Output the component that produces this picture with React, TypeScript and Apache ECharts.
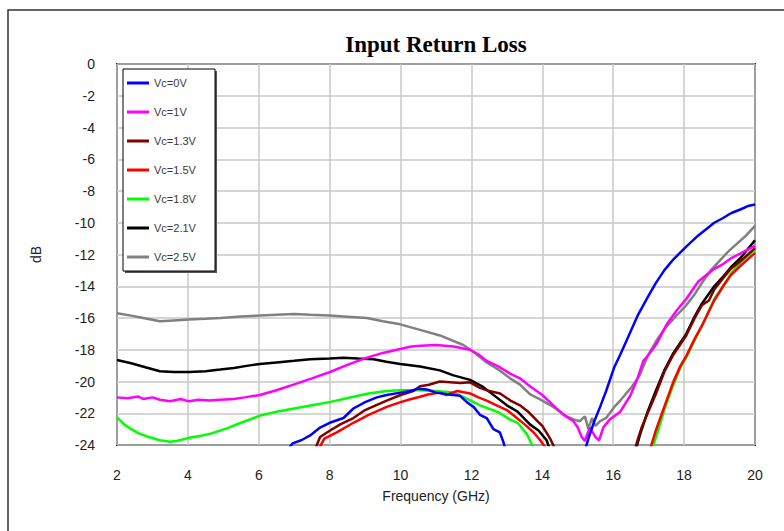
import React, { useEffect, useRef } from "react";
import * as echarts from "echarts";

const seriesNames = ["Vc=0V", "Vc=1V", "Vc=1.3V", "Vc=1.5V", "Vc=1.8V", "Vc=2.1V", "Vc=2.5V"];
const seriesColors = ["#0000ff", "#ff00ff", "#800000", "#ff0000", "#00ff00", "#000000", "#808080"];

const xTicks = [2, 4, 6, 8, 10, 12, 14, 16, 18, 20];
const yTicks = [0, -2, -4, -6, -8, -10, -12, -14, -16, -18, -20, -22, -24];

type P = [number, number | string];
const GAP: P = [14.6, "-"];

const vc0V: P[] = [
  [6.85, -24.2], [6.95, -23.9], [7.2, -23.7], [7.45, -23.4], [7.73, -22.9], [8.0, -22.6], [8.39, -22.3],
  [8.67, -21.7], [9.0, -21.3], [9.33, -21.0], [9.61, -20.85], [10.0, -20.7], [10.27, -20.6], [10.5, -20.45],
  [10.74, -20.5], [11.0, -20.7], [11.3, -20.8], [11.68, -20.9], [11.87, -21.3], [12.06, -21.6], [12.24, -22.1],
  [12.43, -22.3], [12.62, -23.0], [12.8, -23.2], [12.9, -23.8], [12.95, -24.2],
  GAP,
  [15.22, -24.2], [15.3, -23.6], [15.45, -22.6], [15.63, -21.6], [15.8, -20.6], [16.03, -19.1], [16.2, -18.3],
  [16.4, -17.3], [16.5, -16.8], [16.7, -15.8], [16.97, -14.7], [17.2, -13.8], [17.44, -13.0], [17.7, -12.3],
  [18.06, -11.5], [18.4, -10.8], [18.85, -10.0], [19.1, -9.7], [19.32, -9.4], [19.6, -9.15], [19.8, -8.95], [20.0, -8.85],
];

const vc1V: P[] = [
  [2, -21.0], [2.3, -21.05], [2.6, -20.95], [2.74, -21.1], [3.0, -21.0], [3.21, -21.15], [3.5, -21.25],
  [3.8, -21.1], [4.03, -21.25], [4.3, -21.15], [4.6, -21.2], [4.91, -21.15], [5.3, -21.1], [5.6, -21.0],
  [6.03, -20.85], [6.5, -20.55], [6.98, -20.2], [7.5, -19.8], [8.01, -19.4], [8.5, -18.95], [9.05, -18.5],
  [9.5, -18.2], [9.99, -17.95], [10.3, -17.8], [10.56, -17.75], [11.0, -17.7], [11.49, -17.8], [11.96, -18.0],
  [12.2, -18.3], [12.43, -18.7], [12.8, -19.1], [13.09, -19.5], [13.37, -19.8], [13.65, -20.3], [14.0, -20.85],
  [14.31, -21.5], [14.6, -22.1], [14.88, -22.5], [15.0, -22.9], [15.11, -23.5], [15.2, -23.75], [15.34, -22.9],
  [15.5, -23.5], [15.6, -23.7], [15.72, -22.9], [15.9, -22.4], [16.2, -21.9], [16.48, -20.9], [16.67, -19.9],
  [16.85, -18.7], [16.97, -18.4], [17.23, -17.6], [17.51, -16.4], [17.8, -15.5], [18.06, -14.8], [18.4, -13.7],
  [18.85, -12.9], [19.1, -12.6], [19.32, -12.25], [19.7, -11.8], [20.0, -11.45],
];

const vc13V: P[] = [
  [7.6, -24.2], [7.73, -23.5], [8.0, -23.1], [8.3, -22.7], [8.67, -22.3], [9.0, -21.8], [9.3, -21.5],
  [9.61, -21.2], [10.0, -20.85], [10.36, -20.6], [10.55, -20.3], [10.8, -20.2], [11.11, -20.0], [11.4, -20.05],
  [11.68, -20.1], [11.96, -20.05], [12.24, -20.4], [12.5, -20.6], [12.81, -20.75], [13.1, -21.2], [13.37, -21.5],
  [13.6, -21.9], [13.84, -22.45], [14.0, -22.8], [14.22, -23.6], [14.35, -24.2],
  GAP,
  [16.62, -24.2], [16.7, -23.6], [16.8, -22.9], [16.97, -22.0], [17.2, -20.8], [17.44, -19.4], [17.7, -18.3],
  [18.06, -17.1], [18.3, -16.0], [18.5, -15.2], [18.7, -14.9], [18.85, -14.2], [19.1, -13.5], [19.32, -12.9],
  [19.6, -12.4], [20.0, -11.6],
];

const vc15V: P[] = [
  [7.7, -24.2], [7.85, -23.6], [8.2, -23.2], [8.67, -22.6], [9.1, -22.1], [9.61, -21.6], [10.0, -21.3],
  [10.3, -21.1], [10.55, -20.96], [10.8, -20.8], [11.11, -20.7], [11.3, -20.85], [11.6, -20.6], [11.96, -20.75],
  [12.2, -21.0], [12.43, -21.2], [12.71, -21.5], [13.0, -21.8], [13.28, -22.3], [13.5, -22.7], [13.75, -23.2],
  [13.94, -23.7], [14.1, -24.2],
  GAP,
  [17.05, -24.2], [17.2, -23.1], [17.44, -21.6], [17.7, -20.0], [17.9, -19.0], [18.06, -18.4], [18.3, -17.3],
  [18.5, -16.5], [18.85, -14.9], [19.1, -14.0], [19.32, -13.3], [19.6, -12.7], [20.0, -11.9],
];

const vc18V: P[] = [
  [2, -22.25], [2.2, -22.7], [2.37, -22.95], [2.6, -23.25], [2.9, -23.5], [3.21, -23.7], [3.5, -23.8],
  [3.68, -23.75], [4.03, -23.55], [4.3, -23.45], [4.62, -23.3], [5.1, -22.95], [5.5, -22.6], [6.03, -22.15],
  [6.5, -21.9], [7.0, -21.7], [7.5, -21.5], [8.0, -21.3], [8.67, -20.96], [9.1, -20.75], [9.61, -20.6],
  [10.0, -20.55], [10.55, -20.55], [11.0, -20.6], [11.49, -20.7], [11.8, -21.0], [12.24, -21.5], [12.6, -21.8],
  [12.81, -22.0], [13.09, -22.4], [13.3, -22.6], [13.56, -23.3], [13.65, -23.7], [13.75, -24.2],
  GAP,
  [17.1, -24.2], [17.25, -23.2], [17.44, -21.8], [17.7, -20.2], [17.9, -19.1], [18.06, -18.5], [18.3, -17.4],
  [18.5, -16.5], [18.85, -14.8], [19.1, -14.0], [19.32, -13.2], [19.6, -12.5], [20.0, -11.65],
];

const vc21V: P[] = [
  [2, -18.65], [2.4, -18.85], [2.8, -19.1], [3.21, -19.35], [3.6, -19.4], [4.03, -19.4], [4.5, -19.35],
  [4.91, -19.25], [5.3, -19.15], [5.7, -19.0], [6.03, -18.9], [6.5, -18.8], [7.0, -18.7], [7.45, -18.6],
  [8.0, -18.55], [8.39, -18.5], [8.8, -18.55], [9.24, -18.6], [9.6, -18.75], [9.99, -18.9], [10.55, -19.05],
  [11.11, -19.3], [11.47, -19.6], [11.96, -19.9], [12.3, -20.3], [12.71, -21.0], [13.0, -21.5], [13.3, -21.9],
  [13.65, -22.7], [13.9, -23.1], [14.12, -23.7], [14.2, -24.2],
  GAP,
  [16.65, -24.2], [16.75, -23.4], [16.97, -21.9], [17.2, -20.6], [17.44, -19.3], [17.7, -18.2], [18.06, -17.0],
  [18.3, -15.9], [18.5, -15.1], [18.85, -14.0], [19.1, -13.4], [19.32, -12.8], [19.6, -12.2], [20.0, -11.1],
];

const vc25V: P[] = [
  [2, -15.7], [2.4, -15.85], [2.74, -16.0], [3.21, -16.2], [3.6, -16.15], [4.03, -16.1], [4.5, -16.05],
  [4.91, -16.0], [5.5, -15.9], [6.03, -15.85], [6.5, -15.8], [7.0, -15.75], [7.45, -15.8], [8.0, -15.85],
  [8.39, -15.9], [9.05, -16.0], [9.5, -16.2], [9.99, -16.4], [10.55, -16.75], [11.11, -17.1], [11.77, -17.7],
  [12.1, -18.2], [12.43, -18.8], [12.8, -19.3], [13.09, -19.8], [13.37, -20.2], [13.65, -20.8], [14.0, -21.2],
  [14.31, -21.6], [14.69, -22.2], [14.9, -22.4], [15.06, -22.5], [15.2, -22.2], [15.3, -23.0], [15.4, -22.3],
  [15.5, -22.8], [15.63, -22.5], [15.8, -22.3], [16.03, -21.6], [16.2, -21.2], [16.5, -20.4], [16.75, -19.6],
  [16.97, -18.4], [17.2, -17.5], [17.44, -16.7], [17.8, -15.8], [18.06, -15.2], [18.3, -14.5], [18.5, -13.8],
  [18.75, -13.0], [19.0, -12.4], [19.25, -11.8], [19.5, -11.3], [19.75, -10.8], [20.0, -10.2],
];

const seriesData = [vc0V, vc1V, vc13V, vc15V, vc18V, vc21V, vc25V];

export default function App() {
  const ref = useRef<HTMLDivElement>(null);
  useEffect(() => {
    if (!ref.current) return;
    const chart = echarts.init(ref.current, null, { renderer: "svg" });
    const font = "Arial, 'Liberation Sans', sans-serif";
    const option: any = {
      animation: false,
      backgroundColor: "#ffffff",
      grid: {
        left: 117,
        right: 29,
        top: 64,
        bottom: 86,
        show: true,
        borderColor: "#222222",
        borderWidth: 2,
        backgroundColor: "transparent",
      },
      xAxis: {
        type: "value",
        min: xTicks[0],
        max: xTicks[xTicks.length - 1],
        interval: 2,
        name: "Frequency (GHz)",
        nameLocation: "middle",
        nameGap: 44,
        nameTextStyle: { fontFamily: font, fontSize: 14, color: "#222" },
        axisLine: { show: false },
        axisTick: { show: false },
        axisLabel: { margin: 23, fontFamily: font, fontSize: 14, color: "#222" },
        splitLine: { show: true, lineStyle: { color: "#c8c8c8", width: 1.5 } },
      },
      yAxis: {
        type: "value",
        min: yTicks[yTicks.length - 1],
        max: yTicks[0],
        interval: 2,
        name: "dB",
        nameLocation: "middle",
        nameGap: 74,
        nameRotate: 90,
        nameTextStyle: { fontFamily: font, fontSize: 14, color: "#222" },
        axisLine: { show: false },
        axisTick: { show: false },
        axisLabel: { margin: 22, fontFamily: font, fontSize: 14, color: "#222" },
        splitLine: { show: true, lineStyle: { color: "#c8c8c8", width: 1.5 } },
      },
      legend: {
        orient: "vertical",
        left: 127,
        top: 77,
        z: 30,
        icon: "rect",
        itemWidth: 22,
        itemHeight: 3,
        itemGap: 17,
        padding: 0,
        data: seriesNames,
        textStyle: { fontFamily: font, fontSize: 11, color: "#3a3a3a", lineHeight: 12 },
      },
      graphic: [
        {
          type: "rect",
          z: -10,
          shape: { x: 8, y: 10, width: 800, height: 600 },
          style: { fill: "none", stroke: "#333333", lineWidth: 1.5 },
        },
        {
          type: "rect",
          z: 20,
          shape: { x: 125, y: 71, width: 92, height: 202 },
          style: { fill: "#555555" },
        },
        {
          type: "rect",
          z: 21,
          shape: { x: 123, y: 69, width: 92, height: 202 },
          style: { fill: "#ffffff", stroke: "#000000", lineWidth: 1 },
        },
        {
          type: "text",
          x: 436,
          y: 44,
          style: {
            text: "Input Return Loss",
            textAlign: "center",
            textVerticalAlign: "middle",
            font: "bold 23px 'Liberation Serif', 'Times New Roman', serif",
            fill: "#000000",
          },
        },
      ],
      series: seriesNames.map((name, i) => ({
        name,
        type: "line",
        data: seriesData[i],
        showSymbol: false,
        symbol: "none",
        clip: true,
        z: 2 + (seriesNames.length - i),
        lineStyle: { color: seriesColors[i], width: 2.5 },
        itemStyle: { color: seriesColors[i] },
      })),
    };
    chart.setOption(option);
    return () => chart.dispose();
  }, []);
  return (
    <div
      ref={ref}
      style={{ position: "fixed", left: 0, top: 0, width: 784, height: 531 }}
    />
  );
}
